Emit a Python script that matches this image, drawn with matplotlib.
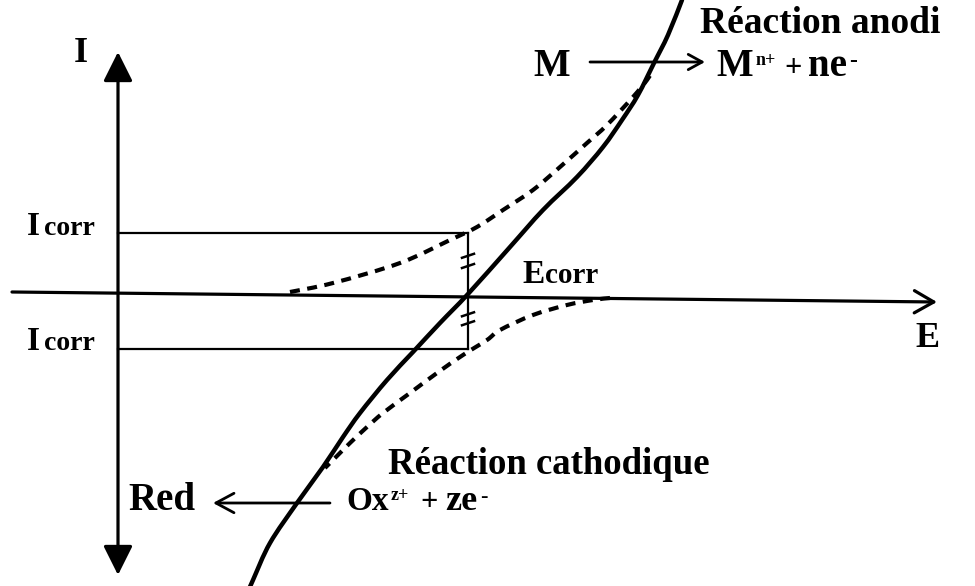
import matplotlib
matplotlib.use("Agg")
import matplotlib.pyplot as plt
from matplotlib.patches import FancyArrowPatch, PathPatch
from matplotlib.path import Path

SERIF = 'Liberation Serif'

# Evans-type polarisation sketch: potential E (horizontal), current I (vertical)
E_corr = 468
I_corr_anodic = 60
I_corr_cathodic = -56

# Measured (total) polarisation curve
total_E = [246, 253, 270, 297, 323, 343, 360, 387, 413, 440, 468, 510, 543,
           577, 603, 622, 638, 654, 668, 682]
total_I = [-303, -287, -250, -210, -174, -144, -120, -87, -59, -30, -1, 46, 83,
           116, 146, 173, 198, 230, 258, 293]

# Partial anodic branch  M -> M^n+ + ne-
anodic_E = [290, 333, 400, 450, 477, 503, 533, 560, 587, 607, 633, 647, 652]
anodic_I = [1, 10, 30, 53, 66, 83, 103, 126, 150, 168, 196, 213, 221]

# Partial cathodic branch  Ox^z+ + ze- -> Red
cathodic_E = [610, 593, 567, 533, 500, 487, 463, 437, 410, 383, 367, 350, 335, 325]
cathodic_I = [-5, -7, -12, -22, -37, -47, -62, -80, -100, -120, -134, -150, -165, -175]


def smooth_path(xs, ys):
    """Catmull-Rom curve through the given points, as cubic Bezier segments."""
    pts = list(zip(xs, ys))
    verts = [pts[0]]
    codes = [Path.MOVETO]
    n = len(pts)
    for i in range(n - 1):
        p0 = pts[i - 1] if i > 0 else pts[i]
        p1 = pts[i]
        p2 = pts[i + 1]
        p3 = pts[i + 2] if i + 2 < n else pts[i + 1]
        c1 = (p1[0] + (p2[0] - p0[0]) / 6, p1[1] + (p2[1] - p0[1]) / 6)
        c2 = (p2[0] - (p3[0] - p1[0]) / 6, p2[1] - (p3[1] - p1[1]) / 6)
        verts += [c1, c2, p2]
        codes += [Path.CURVE4] * 3
    return Path(verts, codes)


fig = plt.figure(figsize=(9.75, 5.86), dpi=100)
ax = fig.add_axes([0, 0, 1, 1])
ax.set_xlim(0, 975)
ax.set_ylim(-293, 293)
ax.axis('off')

k = 'black'


def arrow(p0, p1, style, lw):
    ax.add_patch(FancyArrowPatch(p0, p1, arrowstyle=style, mutation_scale=1,
                                 lw=lw, color=k, shrinkA=0, shrinkB=0))


# axes of the diagram
arrow((118, -282), (118, 241), '<|-|>,head_length=18,head_width=9', 2.3)
arrow((12, 1), (937, -9), '->,head_length=14,head_width=8', 2.3)

# corrosion current construction lines
ax.plot([118, E_corr], [I_corr_anodic, I_corr_anodic], color=k, lw=1.6)
ax.plot([118, E_corr], [I_corr_cathodic, I_corr_cathodic], color=k, lw=1.6)
ax.plot([E_corr, E_corr], [I_corr_cathodic, I_corr_anodic], color=k, lw=1.6)

# equality ticks on the vertical segment
for lvl in (I_corr_anodic * 0.62, I_corr_anodic * 0.45,
            I_corr_cathodic * 0.38, I_corr_cathodic * 0.54):
    ax.plot([E_corr - 6, E_corr + 6], [lvl - 2, lvl + 2], color=k, lw=1.8)

# curves
ax.add_patch(PathPatch(smooth_path(total_E, total_I), fill=False,
                       edgecolor=k, lw=3.2, capstyle='round'))
ax.add_patch(PathPatch(smooth_path(anodic_E, anodic_I), fill=False,
                       edgecolor=k, lw=3.0, linestyle=(0, (2.4, 1.8))))
ax.add_patch(PathPatch(smooth_path(cathodic_E, cathodic_I), fill=False,
                       edgecolor=k, lw=3.0, linestyle=(0, (2.4, 1.8))))

# reaction arrows
arrow((590, 231), (705, 231), '->,head_length=10,head_width=5.5', 2.0)
arrow((330, -210), (213, -210), '->,head_length=13,head_width=7', 2.0)

tx = dict(family=SERIF, weight='bold', color=k, va='baseline', ha='left')


def label(x, y, s, size):
    ax.text(x, y, s, fontsize=size, **tx)


# axis names
ax.text(81, 231, 'I', fontsize=26, **{**tx, 'ha': 'center'})
ax.text(927, -54, 'E', fontsize=26, **{**tx, 'ha': 'center'})

# corrosion current / potential
for base in (58, -57):
    label(27, base, 'I', 24)
    label(44, base, 'corr', 20)
label(522, 10, 'E', 24)
label(545, 10, 'corr', 21)

# anodic reaction
label(700, 260, 'Réaction anodi', 27)
label(533, 217, 'M', 28)
label(716, 217, 'M', 28)
label(756, 228, 'n+', 13)
label(784, 217, '+', 22)
label(808, 217, 'ne', 28)
label(849, 226, '-', 17)

# cathodic reaction
label(388, -181, 'Réaction cathodique', 26.5)
label(128, -217, 'Red', 28)
label(346, -217, 'Ox', 24)
label(391, -207, 'z+', 13)
label(420, -217, '+', 22)
label(445, -217, 'ze', 26)
label(480, -209, '-', 16)

fig.savefig('out.png', dpi=100, facecolor='white')
